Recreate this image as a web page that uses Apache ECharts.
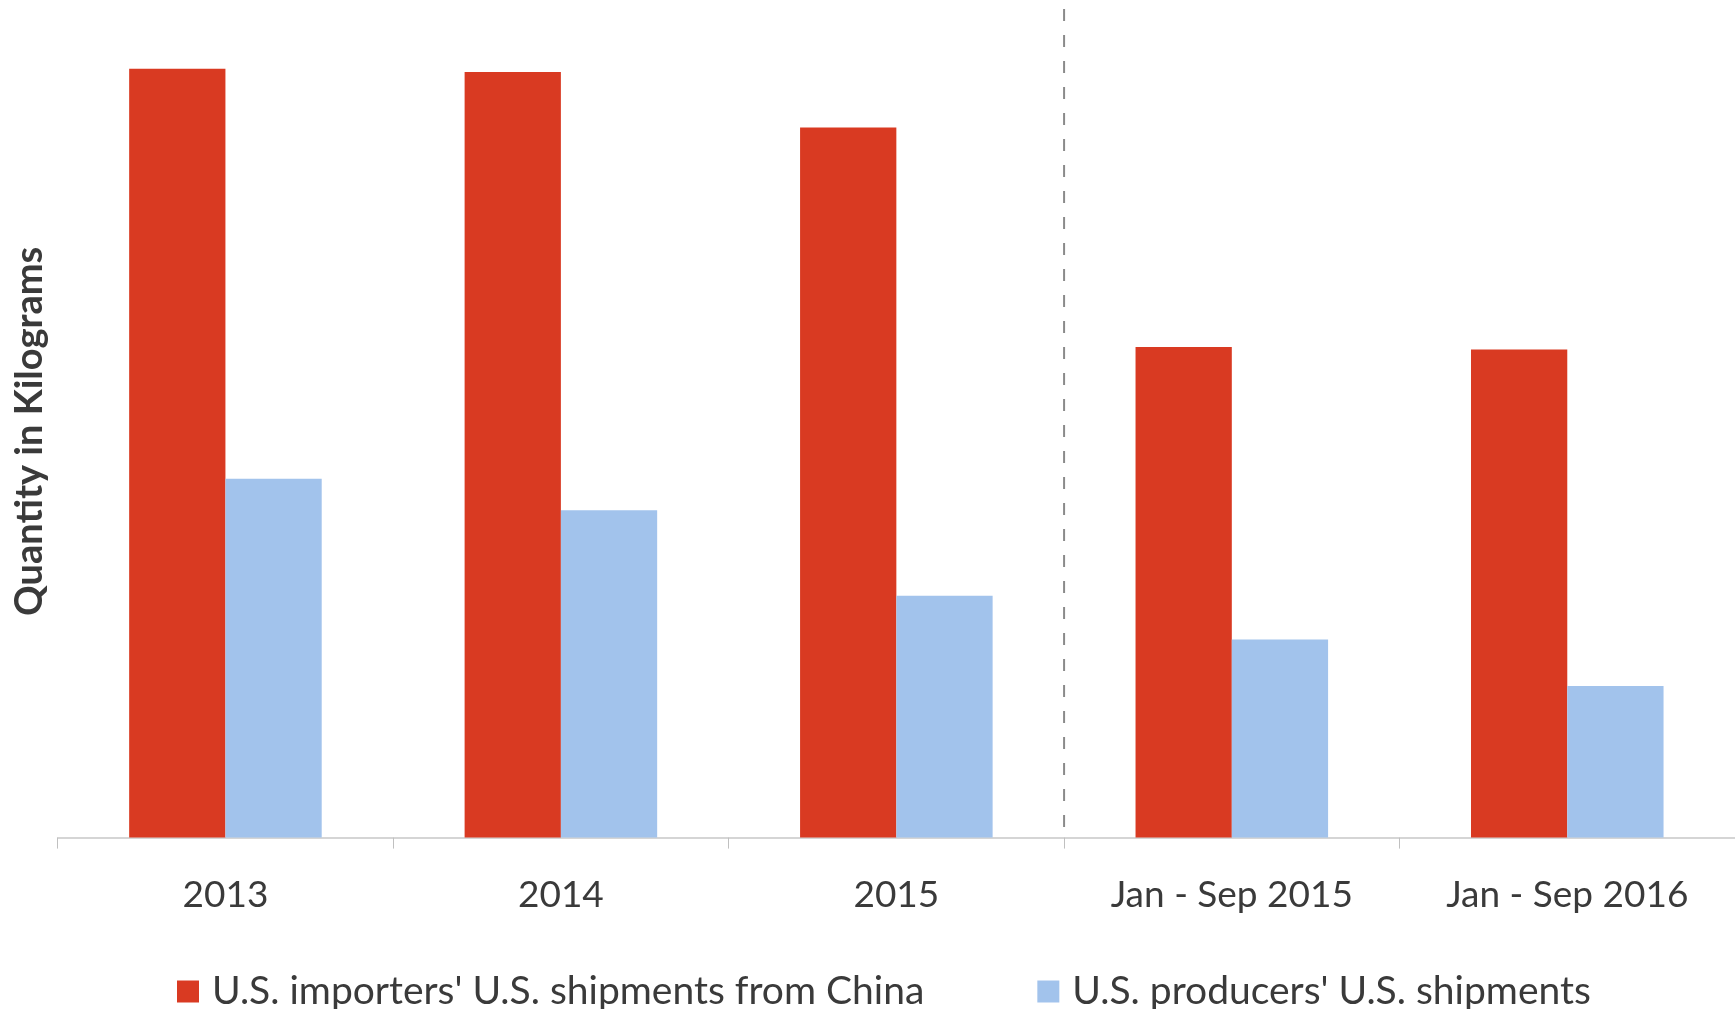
<!DOCTYPE html>
<html>
<head>
<meta charset="utf-8">
<script src="https://cdn.jsdelivr.net/npm/echarts@6/dist/echarts.min.js"></script>
<style>
  html, body { margin: 0; padding: 0; background: #fff; }
  #chart { width: 1735px; height: 1009px; }
</style>
</head>
<body>
<div id="chart"></div>
<script>
// categories on the x axis
const categories = ['2013', '2014', '2015', 'Jan - Sep 2015', 'Jan - Sep 2016']
// series names
const seriesNames = ["U.S. importers' U.S. shipments from China", "U.S. producers' U.S. shipments"]
// values (no scale printed, relative units)
const importsChina = [928, 924, 857, 592, 589]
const producersUS = [433, 395, 292, 239, 183]
// divider between full years and interim periods (category boundary)
const dividerAt = 3
const yMax = 1000

const chart = echarts.init(document.getElementById('chart'))

const textColor = '#3a3a3a'
const font = 'Lato, "Open Sans", sans-serif'

let option = {
    animation: false,
    color: ['#d93a22', '#a2c3ec'],
    grid: {
        left: 57.7,
        top: 9,
        width: 1681,
        height: 828.6
    },
    legend: {
        left: 177,
        top: 972,
        padding: 0,
        itemWidth: 22,
        itemHeight: 22,
        itemGap: 113,
        icon: 'rect',
        textStyle: {
            color: textColor,
            fontFamily: font,
            fontSize: 39,
            padding: [0, 0, 0, 8]
        },
        data: seriesNames
    },
    xAxis: [
        {
            type: 'category',
            data: categories,
            axisLine: { lineStyle: { color: '#c8c8c8', width: 1.5 } },
            axisTick: { show: true, length: 11, lineStyle: { color: '#c0c0c0' } },
            axisLabel: {
                color: textColor,
                fontFamily: font,
                fontSize: 37,
                margin: 39
            }
        },
        {
            // hidden helper axis to place the divider between categories
            type: 'value',
            min: 0,
            max: categories.length,
            show: false
        }
    ],
    yAxis: {
        type: 'value',
        min: 0,
        max: yMax,
        name: 'Quantity in Kilograms',
        nameLocation: 'middle',
        nameGap: 9,
        nameTextStyle: {
            color: textColor,
            fontFamily: font,
            fontSize: 38,
            fontWeight: 'bold',
            padding: [0, 16, 0, 0]
        },
        axisLine: { show: false },
        axisTick: { show: false },
        axisLabel: { show: false },
        splitLine: { show: false }
    },
    series: [
        {
            name: seriesNames[0],
            type: 'bar',
            data: importsChina,
            barGap: '0%',
            barCategoryGap: '42.6%'
        },
        {
            name: seriesNames[1],
            type: 'bar',
            data: producersUS,
            barGap: '0%',
            barCategoryGap: '42.6%'
        },
        {
            type: 'line',
            xAxisIndex: 1,
            symbol: 'none',
            silent: true,
            data: [[dividerAt, yMax], [dividerAt, 0]],
            lineStyle: { color: '#8a8a8a', width: 2, type: [12, 14] },
            z: 1
        }
    ]
}

chart.setOption(option)
</script>
</body>
</html>
